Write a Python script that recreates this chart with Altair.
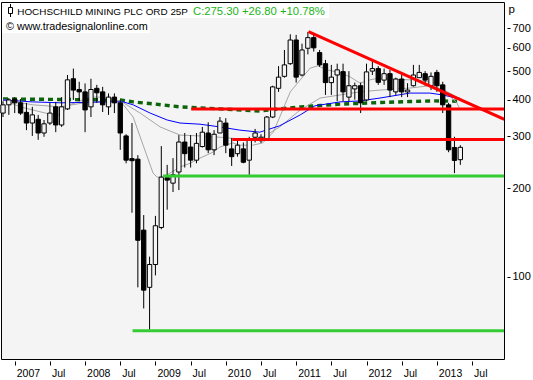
import altair as alt
import pandas as pd

# ---------------- data (monthly candles, Nov 2006 .. May 2013) ----------------
months = pd.date_range("2006-11-01", "2013-05-01", freq="MS").strftime("%Y-%m").tolist()

opens = [360, 384, 402, 390, 362, 333, 343, 308, 333, 378, 328, 372, 471, 433, 425, 378, 437, 425, 378, 408,
         390, 301, 252, 251, 144, 92, 110, 147, 217, 208, 227, 287, 276, 249, 277, 308, 270, 308, 333, 272,
         262, 272, 249, 298, 290, 295, 349, 437, 480, 530, 638, 485, 598, 650, 578, 530, 457, 485, 498, 408,
         435, 446, 399, 500, 510, 466, 490, 425, 470, 425, 446, 475, 490, 446, 495, 449, 384, 275, 250]
highs = [395, 405, 408, 402, 390, 378, 355, 341, 390, 393, 408, 485, 510, 460, 454, 471, 449, 442, 420, 420,
         399, 305, 333, 259, 162, 117, 161, 278, 240, 253, 303, 308, 303, 308, 323, 335, 315, 349, 346, 296,
         292, 286, 299, 318, 305, 352, 446, 520, 590, 667, 664, 620, 680, 664, 590, 546, 525, 530, 530, 500,
         457, 457, 530, 546, 520, 510, 505, 475, 485, 455, 525, 525, 500, 495, 505, 460, 390, 299, 280]
lows = [349, 355, 360, 355, 315, 301, 292, 299, 328, 310, 323, 369, 399, 395, 310, 349, 390, 363, 355, 360,
        270, 243, 165, 92, 78, 66, 101, 145, 169, 194, 197, 235, 235, 243, 275, 263, 259, 308, 263, 238,
        256, 243, 222, 286, 285, 292, 346, 425, 475, 525, 457, 480, 570, 583, 517, 415, 415, 395, 395, 395,
        400, 360, 395, 485, 449, 449, 408, 415, 408, 408, 443, 475, 446, 431, 425, 360, 265, 225, 240]
closes = [384, 399, 390, 360, 333, 355, 308, 331, 360, 328, 378, 467, 431, 425, 369, 433, 422, 384, 408, 390,
          308, 249, 248, 133, 90, 110, 149, 218, 213, 222, 287, 262, 249, 284, 310, 270, 305, 338, 280, 256,
          280, 245, 292, 308, 298, 349, 442, 477, 525, 638, 477, 590, 650, 600, 525, 457, 477, 505, 425, 446,
          446, 390, 497, 510, 458, 490, 431, 470, 425, 431, 485, 495, 466, 480, 446, 384, 270, 248.5, 275.3]

# indicator lines (bar index, value)
blue_bar = [0, 5, 10, 18, 20.5, 22.2, 25.1, 28, 30.2, 33.6, 37, 40.4, 43.8, 47.2, 50.7, 53.2, 57.5, 60.9, 64.3, 69.4, 72.8, 75, 78]
blue_val = [399, 393, 390, 393, 393, 384, 360, 341, 333, 330, 323, 315, 310, 326, 355, 381, 393, 396, 405, 421, 421, 415, 402]

green_bar = [0, 20, 22.2, 25.6, 30.2, 37, 43.8, 47.2, 50.7, 57.5, 64.3, 69.4, 73.5, 78]
green_val = [402, 399, 393, 387, 378, 372, 366, 372, 378, 386, 391, 394, 396, 395]

grayf_bar = [0, 2.9, 8, 9.7, 11.4, 14.8, 16.5, 20, 22.2, 23.9, 25.6, 26.3, 27.3, 30.2, 31.9, 33.6, 35.8, 37, 39.2,
             40.4, 42.6, 44.3, 46.1, 47.2, 49, 50.7, 52.4, 53.7, 55.3, 57.5, 59.2, 60.9, 62.6, 64.3, 66, 69.4,
             71.6, 74, 75.7, 77.4, 78]
grayf_val = [400, 378, 357, 355, 384, 408, 408, 396, 349, 280, 225, 218, 218, 236, 243, 253, 265, 276, 285,
             280, 280, 285, 310, 349, 425, 467, 512, 521, 505, 494, 478, 455, 467, 474, 470, 467,
             463, 455, 421, 390, 369]

grays_bar = [0, 5.1, 9.7, 14.8, 20, 23.4, 26.8, 30.2, 33.6, 37, 40.4, 43.8, 47.2, 50.7, 54.1, 57.5, 60.9, 64.3,
             69.4, 72.8, 75, 77.4, 78]
grays_val = [400, 384, 378, 393, 396, 360, 323, 303, 301, 298, 294, 294, 323, 369, 405, 415, 425, 431,
             438, 446, 434, 408, 405]

# support / resistance lines
red_h_start = [32.1, 39.1]
red_h_level = [372, 293]
trend_bar = [52.1, 85.5]
trend_val = [681, 343]
green_h_start = [27.3, 22.1]
green_h_level = [220, 65.5]
line_end = 86

# axis ticks (January / July)
tick_months = ["2007-01", "2007-07", "2008-01", "2008-07", "2009-01", "2009-07", "2010-01", "2010-07",
               "2011-01", "2011-07", "2012-01", "2012-07", "2013-01", "2013-07"]
tick_labels = ["2007", "Jul", "2008", "Jul", "2009", "Jul", "2010", "Jul", "2011", "Jul", "2012", "Jul", "2013", "Jul"]
y_ticks = [100, 200, 300, 400, 500, 600, 700]

FONT = "Liberation Sans"
BG = "#f4f4f4"

# ---------------- build ----------------
cdf = pd.DataFrame({"bar": list(range(len(months))), "month": months,
                    "open": opens, "high": highs, "low": lows, "close": closes})
cdf["lo"] = cdf[["open", "close"]].min(axis=1)
cdf["hi"] = cdf[["open", "close"]].max(axis=1)
half = 0.37
cdf["x1"] = cdf["bar"] - half
cdf["x2"] = cdf["bar"] + half
cdf["up"] = cdf["close"] >= cdf["open"]

def month_to_bar(m):
    y, mo = int(m[:4]), int(m[5:7])
    return (y - 2006) * 12 + (mo - 11)

tick_bars = [month_to_bar(m) for m in tick_months]

xs = alt.Scale(domain=[-0.34, 85.45], nice=False, zero=False)
ys = alt.Scale(type="log", domain=[52.5, 859], nice=False)

expr = "''"
for v, l in reversed(list(zip(tick_bars, tick_labels))):
    expr = f"datum.value < {v + 0.5} ? '{l}' : ({expr})"

x_axis = alt.Axis(values=tick_bars, labelExpr=expr, orient="bottom", offset=2, tickSize=4,
                  tickColor="black", labelAlign="left", labelBaseline="top", labelPadding=3, labelOffset=1.5,
                  domain=False, grid=False, labelFont=FONT, labelFontSize=10.5, labelColor="black",
                  title=None, labelOverlap=False, labelFlush=False)
y_axis = alt.Axis(values=y_ticks, orient="right", offset=3, tickSize=3, tickColor="black", labelPadding=2,
                  domain=False, grid=False, labelFont=FONT, labelFontSize=11, labelColor="black",
                  format="d", title="p", titleAngle=0, titleX=1, titleY=10, titleAlign="left",
                  titleBaseline="alphabetic", titleFont=FONT, titleFontSize=11.5, titleFontWeight="normal",
                  titleColor="black", labelOverlap=False, labelFlush=False)

def X(f):
    return alt.X(f, scale=xs, axis=x_axis)

def Y(f):
    return alt.Y(f, scale=ys, axis=y_axis)

def line_layer(bars, vals, color, width, dash=None):
    d = pd.DataFrame({"bar": bars, "val": vals})
    kw = dict(color=color, strokeWidth=width, clip=True)
    if dash:
        kw["strokeDash"] = dash
    return alt.Chart(d).mark_line(**kw).encode(x=X("bar:Q"), y=Y("val:Q"), order="bar:Q")

green_ma = line_layer(green_bar, green_val, "#0b650b", 3.4, [5, 4])
gray_s = line_layer(grays_bar, grays_val, "#a6a6a6", 1)
gray_f = line_layer(grayf_bar, grayf_val, "#a6a6a6", 1)
blue = line_layer(blue_bar, blue_val, "#0000ff", 1)

wicks = alt.Chart(cdf).mark_rule(color="black", strokeWidth=1).encode(
    x=X("bar:Q"), y=Y("low:Q"), y2="high:Q")
bodies = alt.Chart(cdf).mark_rect(stroke="black", strokeWidth=1).encode(
    x=X("x1:Q"), x2="x2:Q", y=Y("lo:Q"), y2="hi:Q",
    fill=alt.condition("datum.up", alt.value(BG), alt.value("black")))

red_df = pd.DataFrame({"start": red_h_start, "end": [line_end] * 2, "level": red_h_level})
red_h = alt.Chart(red_df).mark_rule(color="#ff0000", strokeWidth=3, clip=True).encode(
    x=X("start:Q"), x2="end:Q", y=Y("level:Q"))
trend = line_layer(trend_bar, trend_val, "#ff0000", 3)
grn_df = pd.DataFrame({"start": green_h_start, "end": [line_end] * 2, "level": green_h_level})
green_h = alt.Chart(grn_df).mark_rule(color="#33cc33", strokeWidth=3, clip=True).encode(
    x=X("start:Q"), x2="end:Q", y=Y("level:Q"))

one = pd.DataFrame({"a": [0]})
box1 = alt.Chart(one).mark_rect(color="white").encode(
    x=alt.value(1), x2=alt.value(328), y=alt.value(1), y2=alt.value(16))
box2 = alt.Chart(one).mark_rect(color="white").encode(
    x=alt.value(1), x2=alt.value(149), y=alt.value(16), y2=alt.value(31))
icon_w = alt.Chart(one).mark_rule(color="black", strokeWidth=1).encode(
    x=alt.value(9.5), y=alt.value(2), y2=alt.value(15))
icon_b = alt.Chart(one).mark_rect(fill="white", stroke="black", strokeWidth=1).encode(
    x=alt.value(7.5), x2=alt.value(11.5), y=alt.value(5.5), y2=alt.value(11.5))
t1 = alt.Chart(one).mark_text(text="HOCHSCHILD MINING PLC ORD 25P", align="left", baseline="alphabetic",
                              font=FONT, fontSize=9.9, color="black").encode(x=alt.value(16.3), y=alt.value(13))
t2 = alt.Chart(one).mark_text(text="C:275.30 +26.80 +10.78%", align="left", baseline="alphabetic",
                              font=FONT, fontSize=11.3, color="#19b419").encode(x=alt.value(192), y=alt.value(13))
t3 = alt.Chart(one).mark_text(text="\u00a9 www.tradesignalonline.com", align="left", baseline="alphabetic",
                              font=FONT, fontSize=10.8, color="black").encode(x=alt.value(5), y=alt.value(28))

chart = alt.layer(
    green_ma, gray_s, gray_f, blue, wicks, bodies, red_h, trend, green_h,
    box1, box2, icon_w, icon_b, t1, t2, t3
).properties(
    width=503, height=357,
    autosize=alt.AutoSizeParams(type="none"),
    padding={"left": 1, "top": 2, "right": 29, "bottom": 21},
    background="white",
).configure_view(fill=BG, stroke="black", strokeWidth=1)

chart.save("out.html", embed_options={"renderer": "svg", "actions": False})
